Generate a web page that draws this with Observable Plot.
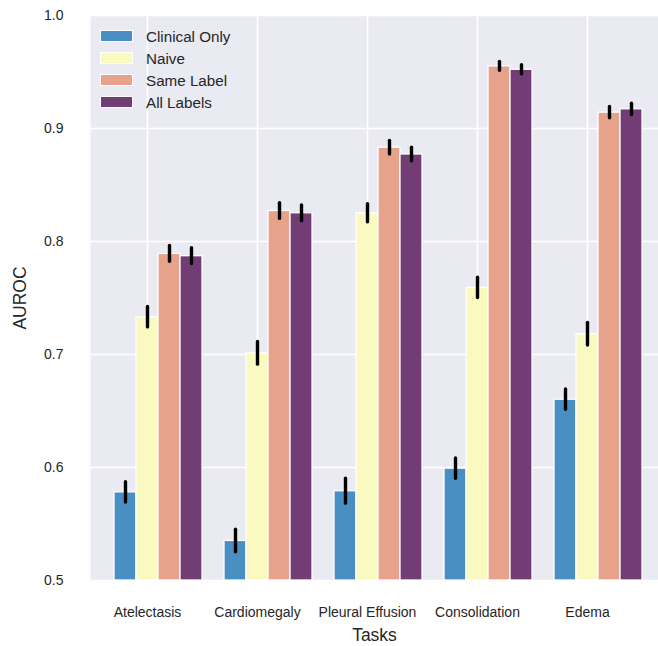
<!DOCTYPE html>
<html>
<head>
<meta charset="utf-8">
<script src="https://cdn.jsdelivr.net/npm/d3@7"></script>
<script src="https://cdn.jsdelivr.net/npm/@observablehq/plot@0.6"></script>
<style>
  html, body { margin: 0; padding: 0; background: #fff; }
  #wrap { position: relative; width: 658px; height: 646px; font-family: "Liberation Sans", Arial, sans-serif; }
  #wrap svg { font-family: "Liberation Sans", Arial, sans-serif; }
  g[aria-label="y-axis label"] text, g[aria-label="x-axis label"] text { font-size: 17.5px; fill: #262626; }
  g[aria-label="y-axis tick label"] text, g[aria-label="x-axis tick label"] text { font-size: 14px; fill: #262626; }
  #legend { position: absolute; left: 100px; top: 25px; font-size: 15.2px; color: #262626; }
  #legend .row { display: flex; align-items: center; height: 22px; }
  #legend .sw { width: 31px; height: 10px; border: 1px solid #fff; margin-right: 13px; box-sizing: content-box; }
</style>
</head>
<body>
<div id="wrap"></div>
<script>
const tasks = ["Atelectasis", "Cardiomegaly", "Pleural Effusion", "Consolidation", "Edema"];
const series = ["Clinical Only", "Naive", "Same Label", "All Labels"];
const seriesColors = ["#4a8fc3", "#f9f9c0", "#e7a28c", "#723c75"];

const clinicalOnly = [0.578, 0.535, 0.579, 0.599, 0.660];
const naive        = [0.733, 0.701, 0.825, 0.759, 0.718];
const sameLabel    = [0.789, 0.827, 0.883, 0.955, 0.914];
const allLabels    = [0.787, 0.825, 0.877, 0.952, 0.917];

const clinicalOnlyErr = [0.009, 0.010, 0.011, 0.009, 0.009];
const naiveErr        = [0.009, 0.010, 0.008, 0.009, 0.010];
const sameLabelErr    = [0.007, 0.007, 0.006, 0.004, 0.005];
const allLabelsErr    = [0.007, 0.007, 0.006, 0.004, 0.005];

const yTicks = [0.5, 0.6, 0.7, 0.8, 0.9, 1.0];
const yDomain = [0.5, 1.0];

const values = [clinicalOnly, naive, sameLabel, allLabels];
const errs = [clinicalOnlyErr, naiveErr, sameLabelErr, allLabelsErr];

const SEP = "|";
const data = [];
tasks.forEach((t, i) => series.forEach((s, j) => {
  data.push({task: t, series: s, key: t + SEP + s, value: values[j][i], err: errs[j][i]});
}));
const xDomain = tasks.flatMap(t => [t + SEP, ...series.map(s => t + SEP + s)]);
const tickKeys = tasks.map(t => t + SEP + series[1]);

const chart = Plot.plot({
  width: 658,
  height: 646,
  marginLeft: 90,
  marginRight: 0,
  marginTop: 15,
  marginBottom: 66,
  style: {background: "transparent", fontFamily: "Liberation Sans, Arial, sans-serif"},
  x: {domain: xDomain, paddingInner: 0, paddingOuter: 0.409, align: 0.111},
  y: {domain: yDomain},
  color: {domain: series, range: seriesColors},
  marks: [
    Plot.frame({fill: "#eaeaf2", stroke: null}),
    Plot.gridY(yTicks, {stroke: "#fff", strokeOpacity: 1, strokeWidth: 1.6}),
    Plot.gridX(tickKeys, {stroke: "#fff", strokeOpacity: 1, strokeWidth: 1.6}),
    Plot.barY(data, {x: "key", y1: yDomain[0], y2: "value", fill: "series", stroke: "#fff", strokeWidth: 1.3, inset: 0}),
    Plot.ruleX(data, {x: "key", y1: d => d.value - d.err, y2: d => d.value + d.err, stroke: "#000", strokeWidth: 3.4, strokeLinecap: "round"}),
    Plot.axisY({ticks: yTicks, tickFormat: d3.format(".1f"), tickSize: 0, tickPadding: 27, label: "AUROC", labelAnchor: "center", labelOffset: 77, labelArrow: "none"}),
    Plot.axisX({ticks: tickKeys, tickFormat: k => k.split(SEP)[0], tickSize: 0, tickPadding: 27, label: "Tasks", labelAnchor: "center", labelOffset: 60, labelArrow: "none"})
  ]
});

const wrap = document.getElementById("wrap");
wrap.appendChild(chart);

const legend = document.createElement("div");
legend.id = "legend";
series.forEach((s, j) => {
  const row = document.createElement("div");
  row.className = "row";
  const sw = document.createElement("div");
  sw.className = "sw";
  sw.style.background = seriesColors[j];
  const lab = document.createElement("span");
  lab.textContent = s;
  row.appendChild(sw);
  row.appendChild(lab);
  legend.appendChild(row);
});
wrap.appendChild(legend);
</script>
</body>
</html>
